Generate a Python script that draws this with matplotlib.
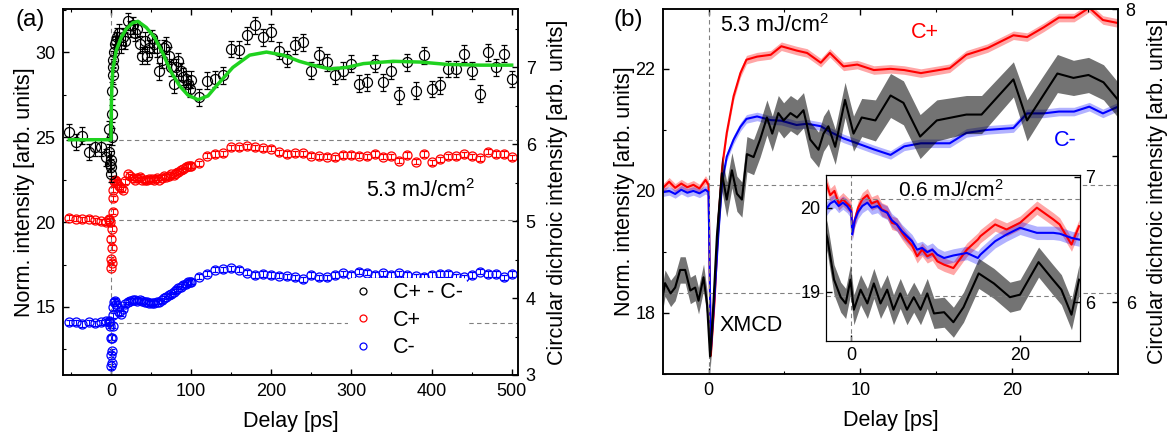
import numpy as np
import matplotlib
matplotlib.use("Agg")
import matplotlib.pyplot as plt
from matplotlib.ticker import MultipleLocator, FixedLocator
from matplotlib.lines import Line2D

plt.rcParams['font.family'] = ['Liberation Sans', 'DejaVu Sans']
plt.rcParams['mathtext.fontset'] = 'custom'
plt.rcParams['mathtext.rm'] = 'Liberation Sans'
plt.rcParams['mathtext.it'] = 'Liberation Sans:italic'

# ---------------- panel (a): 5.3 mJ/cm2, long delays ----------------
delay_a = [-52, -44, -36, -28, -20, -12, -6, -3,
           -2, -1, -0.5, 0, 0.3, 0.6, 1, 1.5, 2, 2.5, 3, 4, 5, 6, 8, 10,
           12, 15, 18, 21, 24, 27, 30, 33, 36, 39, 42, 45, 48, 51, 54, 57, 60, 63, 66, 69,
           72, 75, 78, 81, 84, 87, 90, 93, 96, 99,
           100, 110, 120, 130, 140, 150, 160, 170, 180, 190,
           200, 210, 220, 230, 240, 250, 260, 270, 280, 290,
           300, 310, 320, 330, 340, 350, 360, 370, 380, 390,
           400, 410, 420, 430, 440, 450, 460, 470, 480, 490, 500]
cplus_a = [20.25, 20.2, 20.15, 20.18, 20.1, 20.05, 20.0, 20.1,
           20.2, 20.0, 19.0, 17.8, 17.3, 17.6, 18.5, 19.6, 20.6, 21.4, 21.9, 22.4, 22.5, 22.4, 22.3, 22.1,
           22.0, 21.9, 22.4, 22.8, 22.7, 22.6, 22.5, 22.6, 22.65, 22.5, 22.45, 22.5, 22.55, 22.55, 22.5,
           22.6, 22.5, 22.6, 22.7, 22.65, 22.7, 22.8, 22.75, 22.9, 22.95, 23.05, 23.1, 23.25, 23.3, 23.3,
           23.3, 23.45, 23.9, 24.0, 24.05, 24.4, 24.4, 24.45, 24.4, 24.35,
           24.3, 24.1, 24.0, 24.05, 24.05, 23.9, 23.88, 23.84, 23.8, 23.94,
           23.94, 23.9, 23.88, 24.0, 23.84, 23.88, 23.61, 23.94, 23.55, 24.0,
           23.51, 23.69, 23.88, 23.88, 23.98, 23.88, 23.75, 24.14, 24.0, 24.0, 23.8]
cminus_a = [14.1, 14.1, 14.0, 14.1, 14.05, 14.1, 14.15, 14.2,
            14.1, 13.9, 13.2, 12.2, 11.5, 11.7, 12.4, 13.2, 13.9, 14.5, 15.0, 15.3, 15.35, 15.2, 15.0, 14.7,
            14.6, 14.9, 15.15, 15.3, 15.35, 15.4, 15.4, 15.38, 15.4, 15.35, 15.3, 15.3, 15.25, 15.22, 15.25,
            15.3, 15.32, 15.4, 15.5, 15.6, 15.7, 15.75, 15.9, 16.0, 16.1, 16.2, 16.3, 16.35, 16.45, 16.5,
            16.5, 16.78, 16.96, 17.18, 17.21, 17.27, 17.18, 17.02, 16.88, 16.94,
            16.88, 16.85, 16.82, 16.74, 16.63, 16.88, 16.74, 16.74, 16.88, 16.98,
            16.88, 17.08, 17.02, 16.88, 16.98, 16.88, 16.98, 16.88, 16.82, 16.78,
            16.88, 16.94, 16.94, 16.82, 16.74, 16.88, 17.08, 16.94, 16.94, 16.74, 16.94]
xmcd_a = [6.16, 6.03, 6.11, 5.90, 5.96, 5.96, 5.83, 6.2,
          5.9, 5.75, 5.7, 5.62, 5.8, 6.1, 6.4, 6.7, 6.9, 7.0, 7.1, 7.2, 7.3, 7.35, 7.4, 7.45,
          7.3, 7.4, 7.35, 7.6, 7.5, 7.55, 7.45, 7.5, 7.3, 7.15, 7.35, 7.15, 7.25, 7.38, 7.3,
          7.25, 6.95, 7.1, 7.25, 7.28, 7.15, 7.0, 6.78, 7.0, 7.08, 6.95, 6.88, 6.85, 6.78, 6.72,
          6.84, 6.61, 6.83, 6.85, 6.9, 7.24, 7.23, 7.42, 7.55, 7.39,
          7.46, 7.22, 7.11, 7.29, 7.33, 6.96, 7.16, 7.07, 6.90, 6.96,
          7.05, 6.79, 6.81, 7.05, 6.81, 6.96, 6.64, 7.07, 6.70, 7.16,
          6.72, 6.77, 6.98, 6.98, 7.18, 6.96, 6.66, 7.2, 7.0, 7.18, 6.85]
xmcd_err_a = 0.11
circ_err_a = 0.15
fit_t = [-52, 0, 0.3, 1, 2.3, 6.5, 12.7, 19, 27, 33.5, 44, 54.4, 64.8, 75, 85.6, 96, 108.5,
         121, 131.5, 152, 173, 194, 215, 235, 252, 273, 294, 315, 352, 386, 419, 461, 500]
fit_a = [6.06, 6.06, 6.45, 6.75, 6.98, 7.22, 7.39, 7.50, 7.58, 7.60, 7.52, 7.39, 7.18, 6.94, 6.76,
         6.64, 6.58, 6.63, 6.76, 7.0, 7.16, 7.2, 7.16, 7.08, 7.03, 6.98, 7.0, 7.05, 7.08, 7.07,
         7.04, 7.03, 7.03]
base_a = {"xmcd": 6.06, "cplus": 20.12, "cminus": 14.08}

# ---------------- panel (b): 5.3 mJ/cm2, short delays ----------------
delay_b = [-3.0, -2.6, -2.2, -1.8, -1.4, -1.0, -0.6, -0.2, 0.0, 0.15, 0.4, 0.65, 0.9, 1.2, 1.65,
           2.1, 2.5, 3.2, 4.1, 4.8, 5.8, 6.5, 7.4, 8.0, 8.9, 9.8, 10.9, 12.0, 12.9, 14.0, 15.9,
           17.0, 18.4, 20.1, 21.0, 22.1, 23.1, 24.1, 25.1, 26.0, 27.0]
cplus_b = [20.05, 20.15, 20.05, 20.12, 20.06, 20.1, 20.04, 20.18, 20.1, 17.3, 18.2, 19.5, 20.4,
           20.95, 21.55, 21.93, 22.15, 22.2, 22.23, 22.37, 22.3, 22.26, 22.1, 22.26, 22.04, 22.07,
           21.98, 22.0, 21.98, 21.93, 22.01, 22.23, 22.34, 22.55, 22.52, 22.68, 22.84, 22.84,
           23.0, 22.8, 22.75]
cminus_b = [19.98, 20.0, 19.95, 20.02, 19.97, 20.0, 19.96, 20.02, 19.98, 17.4, 18.3, 19.3, 20.15,
            20.56, 20.84, 21.05, 21.18, 21.22, 21.16, 21.15, 21.08, 21.1, 21.06, 20.97, 20.86,
            20.78, 20.68, 20.59, 20.73, 20.78, 20.78, 20.95, 21.0, 21.03, 21.27, 21.27, 21.3,
            21.3, 21.38, 21.27, 21.38]
band_b = 0.07
delay_xb = [-3.0, -2.87, -2.5, -2.2, -1.87, -1.54, -1.2, -0.88, -0.66, -0.33, -0.1, 0.1, 0.3,
            0.55, 0.88, 1.2, 1.54, 1.87, 2.2, 2.53, 2.97, 3.4, 3.85, 4.2, 4.6, 4.95, 5.4, 5.83,
            6.26, 6.7, 7.25, 7.58, 7.9, 8.35, 9.0, 9.56, 10.1, 11.0, 12.0, 12.85, 13.95, 15.05,
            17.0, 18.0, 20.1, 21.0, 23.0, 24.06, 25.05, 26.04, 27.0]
xmcd_b = [6.05, 6.13, 6.06, 6.10, 6.22, 6.22, 6.08, 6.10, 6.01, 6.17, 5.99, 5.63, 5.95, 6.45,
          6.88, 6.70, 6.90, 6.74, 6.70, 7.01, 6.99, 7.11, 7.26, 7.15, 7.29, 7.24, 7.29, 7.26,
          7.31, 7.11, 7.04, 7.15, 7.20, 7.06, 7.38, 7.15, 7.26, 7.24, 7.41, 7.36, 7.13, 7.24,
          7.28, 7.28, 7.52, 7.24, 7.56, 7.53, 7.55, 7.50, 7.38]
xmcd_err_b = [0.09, 0.09, 0.09, 0.09, 0.09, 0.09, 0.09, 0.09, 0.09, 0.09, 0.09, 0.1, 0.12, 0.12,
              0.12, 0.12, 0.12, 0.12, 0.12, 0.12, 0.12, 0.12, 0.12, 0.12, 0.12, 0.12, 0.12, 0.12,
              0.12, 0.12, 0.12, 0.12, 0.12, 0.12, 0.12, 0.12, 0.13, 0.14, 0.15, 0.15, 0.15, 0.14,
              0.13, 0.13, 0.12, 0.14, 0.13, 0.12, 0.12, 0.12, 0.12]
base_b = {"xmcd": 6.06, "circ": 20.1}

# ---------------- inset: 0.6 mJ/cm2 ----------------
delay_in = [-3.0, -2.5, -2.0, -1.5, -1.0, -0.5, 0.0, 0.1, 0.4, 0.8, 1.3, 1.9, 2.4, 3.1, 3.6, 4.25,
            4.8, 5.4, 6.0, 6.6, 7.2, 7.8, 8.4, 9.0, 9.6, 10.2, 11.0, 12.1, 13.7, 15.0, 15.3,
            17.05, 18.4, 20.0, 22.0, 23.95, 24.7, 26.1, 27.0]
cplus_in = [20.3, 20.15, 20.2, 20.05, 20.1, 20.05, 20.0, 19.7, 19.85, 20.0, 20.1, 20.15, 20.05,
            20.08, 19.98, 19.95, 19.82, 19.8, 19.7, 19.62, 19.55, 19.42, 19.5, 19.42, 19.45,
            19.36, 19.32, 19.28, 19.5, 19.62, 19.66, 19.8, 19.74, 19.82, 20.0, 19.86, 19.80,
            19.56, 19.78]
cminus_in = [19.98, 20.05, 20.08, 20.02, 20.06, 20.02, 19.95, 19.68, 19.85, 19.95, 20.02, 20.06,
             20.0, 20.02, 19.97, 19.94, 19.85, 19.8, 19.72, 19.66, 19.6, 19.5, 19.52, 19.47,
             19.5, 19.44, 19.4, 19.43, 19.46, 19.40, 19.44, 19.6, 19.68, 19.76, 19.70, 19.70,
             19.69, 19.64, 19.62]
band_in = 0.08
delay_xin = [-3.0, -2.84, -2.05, -1.26, -0.67, -0.1, 0.3, 1.1, 1.9, 2.67, 3.46, 4.25, 5.0, 5.8,
             6.6, 7.4, 8.2, 9.0, 9.8, 11.0, 12.1, 13.3, 15.1, 16.9, 18.8, 20.0, 22.2, 23.9,
             24.9, 26.1, 27.0]
xmcd_in = [6.55, 6.51, 6.18, 6.04, 5.99, 6.18, 5.94, 6.10, 5.99, 6.15, 5.99, 6.10, 5.94, 6.07,
           5.94, 6.04, 5.94, 6.07, 5.91, 5.92, 5.84, 5.96, 6.23, 6.15, 6.04, 6.06, 6.32, 6.18,
           6.10, 5.90, 6.18]
xmcd_err_in = 0.12
base_in = {"xmcd": 6.05, "circ": 20.1}

DASH = dict(color="gray", lw=0.8, ls=(0, (4, 3)))
RED, BLUE, GREEN = "#ff0000", "#0000ff", "#1fd21f"


def style(ax, xminor=None, yminor=None, lw=1.1, size=13):
    for s in ax.spines.values():
        s.set_linewidth(lw)
    ax.tick_params(which="both", direction="in", labelsize=size, pad=5.5)
    ax.tick_params(which="major", length=4.5, width=1)
    ax.tick_params(which="minor", length=2.5, width=0.8)
    if xminor:
        ax.xaxis.set_minor_locator(MultipleLocator(xminor))
    if yminor:
        ax.yaxis.set_minor_locator(MultipleLocator(yminor))


fig = plt.figure(figsize=(11.7, 4.42), dpi=100)

# ---------- (a) ----------
axA = fig.add_axes([0.0538, 0.1516, 0.389, 0.828])
axA2 = axA.twinx()
ekw = dict(fmt="o", mfc="none", ms=6.5, mew=0.9, elinewidth=0.7, capsize=2, capthick=0.7)
axA.errorbar(delay_a, cplus_a, yerr=circ_err_a, mec=RED, ecolor=RED, **ekw)
axA.errorbar(delay_a, cminus_a, yerr=circ_err_a, mec=BLUE, ecolor=BLUE, **ekw)
axA.axvline(0, **DASH)
axA.hlines([base_a["cplus"], base_a["cminus"]], 0, 508, **DASH)
axA2.hlines(base_a["xmcd"], 0, 508, **DASH)
axA2.errorbar(delay_a, xmcd_a, yerr=xmcd_err_a, fmt="o", mfc="none", mec="k", ecolor="k",
              ms=7.2, mew=0.9, elinewidth=0.8, capsize=2.5, capthick=0.8)
axA2.plot(fit_t, fit_a, color=GREEN, lw=2.5, zorder=5)

axA.set_xlim(-60, 508)
axA.set_ylim(11.0, 32.53)
axA2.set_ylim(3, 7.76)
axA.set_xticks([0, 100, 200, 300, 400, 500])
axA.set_yticks([15, 20, 25, 30])
axA2.set_yticks([3, 4, 5, 6, 7])
style(axA, 50, 2.5)
style(axA2, None, 0.5)
axA.tick_params(which="both", top=True)
axA.set_xlabel("Delay [ps]", fontsize=15.5, labelpad=8)
axA.set_ylabel("Norm. intensity [arb. units]", fontsize=15.5, labelpad=0)
axA2.set_ylabel("Circular dichroic intensity [arb. units]", fontsize=15.5, labelpad=8)

handles = [Line2D([], [], marker="o", ls="none", mfc="none", mec=c, ms=5, mew=0.9)
           for c in ("k", RED, BLUE)]
axA2.legend(handles, ["C+ - C-", "C+", "C-"], loc="center", bbox_to_anchor=(0.757, 0.15),
            fontsize=15.5, frameon=True, facecolor="white", edgecolor="none", framealpha=1,
            handlelength=1.0, handletextpad=0.9, labelspacing=0.3, borderpad=0.2)
axA2.text(0.785, 0.505, "5.3 mJ/cm$^2$", transform=axA2.transAxes, ha="center",
          va="center", fontsize=15.5)
fig.text(0.026, 0.955, "(a)", fontsize=17.5, ha="center", va="center")

# ---------- (b) ----------
axB = fig.add_axes([0.5667, 0.1538, 0.3889, 0.8258])
axB2 = axB.twinx()
cp_b, cm_b = np.array(cplus_b), np.array(cminus_b)
axB.fill_between(delay_b, cp_b - band_b, cp_b + band_b, color=RED, alpha=0.35, lw=0)
axB.plot(delay_b, cp_b, color=RED, lw=1.5)
axB.fill_between(delay_b, cm_b - band_b, cm_b + band_b, color=BLUE, alpha=0.3, lw=0)
axB.plot(delay_b, cm_b, color=BLUE, lw=1.5)
axB.axvline(0, **DASH)
axB.hlines(base_b["circ"], 0, 27, **DASH)
xb, eb = np.array(xmcd_b), np.array(xmcd_err_b)
axB2.hlines(base_b["xmcd"], -3, 27, **DASH)
axB2.fill_between(delay_xb, xb - eb, xb + eb, color="k", alpha=0.55, lw=0)
axB2.plot(delay_xb, xb, color="k", lw=1.5)

axB.set_xlim(-3, 27)
axB.set_ylim(17.0, 22.98)
axB2.set_ylim(5.51, 8.0)
axB.set_xticks([0, 10, 20])
axB.set_yticks([18, 20, 22])
axB2.yaxis.set_major_locator(FixedLocator([6, 7, 8]))
axB2.set_yticklabels(["6", "", "8"])
style(axB, 5, 1)
style(axB2)
axB.tick_params(which="both", top=True)
axB.set_xlabel("Delay [ps]", fontsize=15.5, labelpad=8)
axB.set_ylabel("Norm. intensity [arb. units]", fontsize=15.5, labelpad=0)
axB2.set_ylabel("Circular dichroic intensity [arb. units]", fontsize=15.5, labelpad=8)
axB.text(0.125, 0.956, "5.3 mJ/cm$^2$", transform=axB.transAxes, ha="left", va="center",
         fontsize=15.5)
axB.text(0.576, 0.937, "C+", transform=axB.transAxes, ha="center", va="center",
         fontsize=15.5, color=RED)
axB.text(0.8835, 0.641, "C-", transform=axB.transAxes, ha="center", va="center",
         fontsize=15.5, color=BLUE)
axB2.text(0.125, 0.134, "XMCD", transform=axB2.transAxes, ha="left", va="center",
          fontsize=15.5)
fig.text(0.537, 0.955, "(b)", fontsize=17.5, ha="center", va="center")

# ---------- inset ----------
axI = fig.add_axes([0.706, 0.2285, 0.217, 0.3756])
axI.set_facecolor("white")
axI2 = axI.twinx()
cp_i, cm_i = np.array(cplus_in), np.array(cminus_in)
axI.fill_between(delay_in, cp_i - band_in, cp_i + band_in, color=RED, alpha=0.35, lw=0)
axI.plot(delay_in, cp_i, color=RED, lw=1.5)
axI.fill_between(delay_in, cm_i - band_in, cm_i + band_in, color=BLUE, alpha=0.3, lw=0)
axI.plot(delay_in, cm_i, color=BLUE, lw=1.5)
axI.axvline(0, **DASH)
axI.axhline(base_in["circ"], **DASH)
xi = np.array(xmcd_in)
axI2.axhline(base_in["xmcd"], **DASH)
axI2.fill_between(delay_xin, xi - xmcd_err_in, xi + xmcd_err_in, color="k", alpha=0.55, lw=0)
axI2.plot(delay_xin, xi, color="k", lw=1.5)

axI.set_xlim(-3, 27.1)
axI.set_ylim(18.41, 20.39)
axI2.set_ylim(5.69, 7.016)
axI.set_xticks([0, 20])
axI.set_yticks([19, 20])
axI2.set_yticks([6, 7])
style(axI, 10, None, lw=0.8)
style(axI2, None, None, lw=0.8)
axI.tick_params(which="both", pad=4)
axI2.tick_params(which="both", pad=4)
axI.text(0.49, 0.91, "0.6 mJ/cm$^2$", transform=axI.transAxes, ha="center", va="center",
         fontsize=15)

fig.savefig("out.png", dpi=100)
